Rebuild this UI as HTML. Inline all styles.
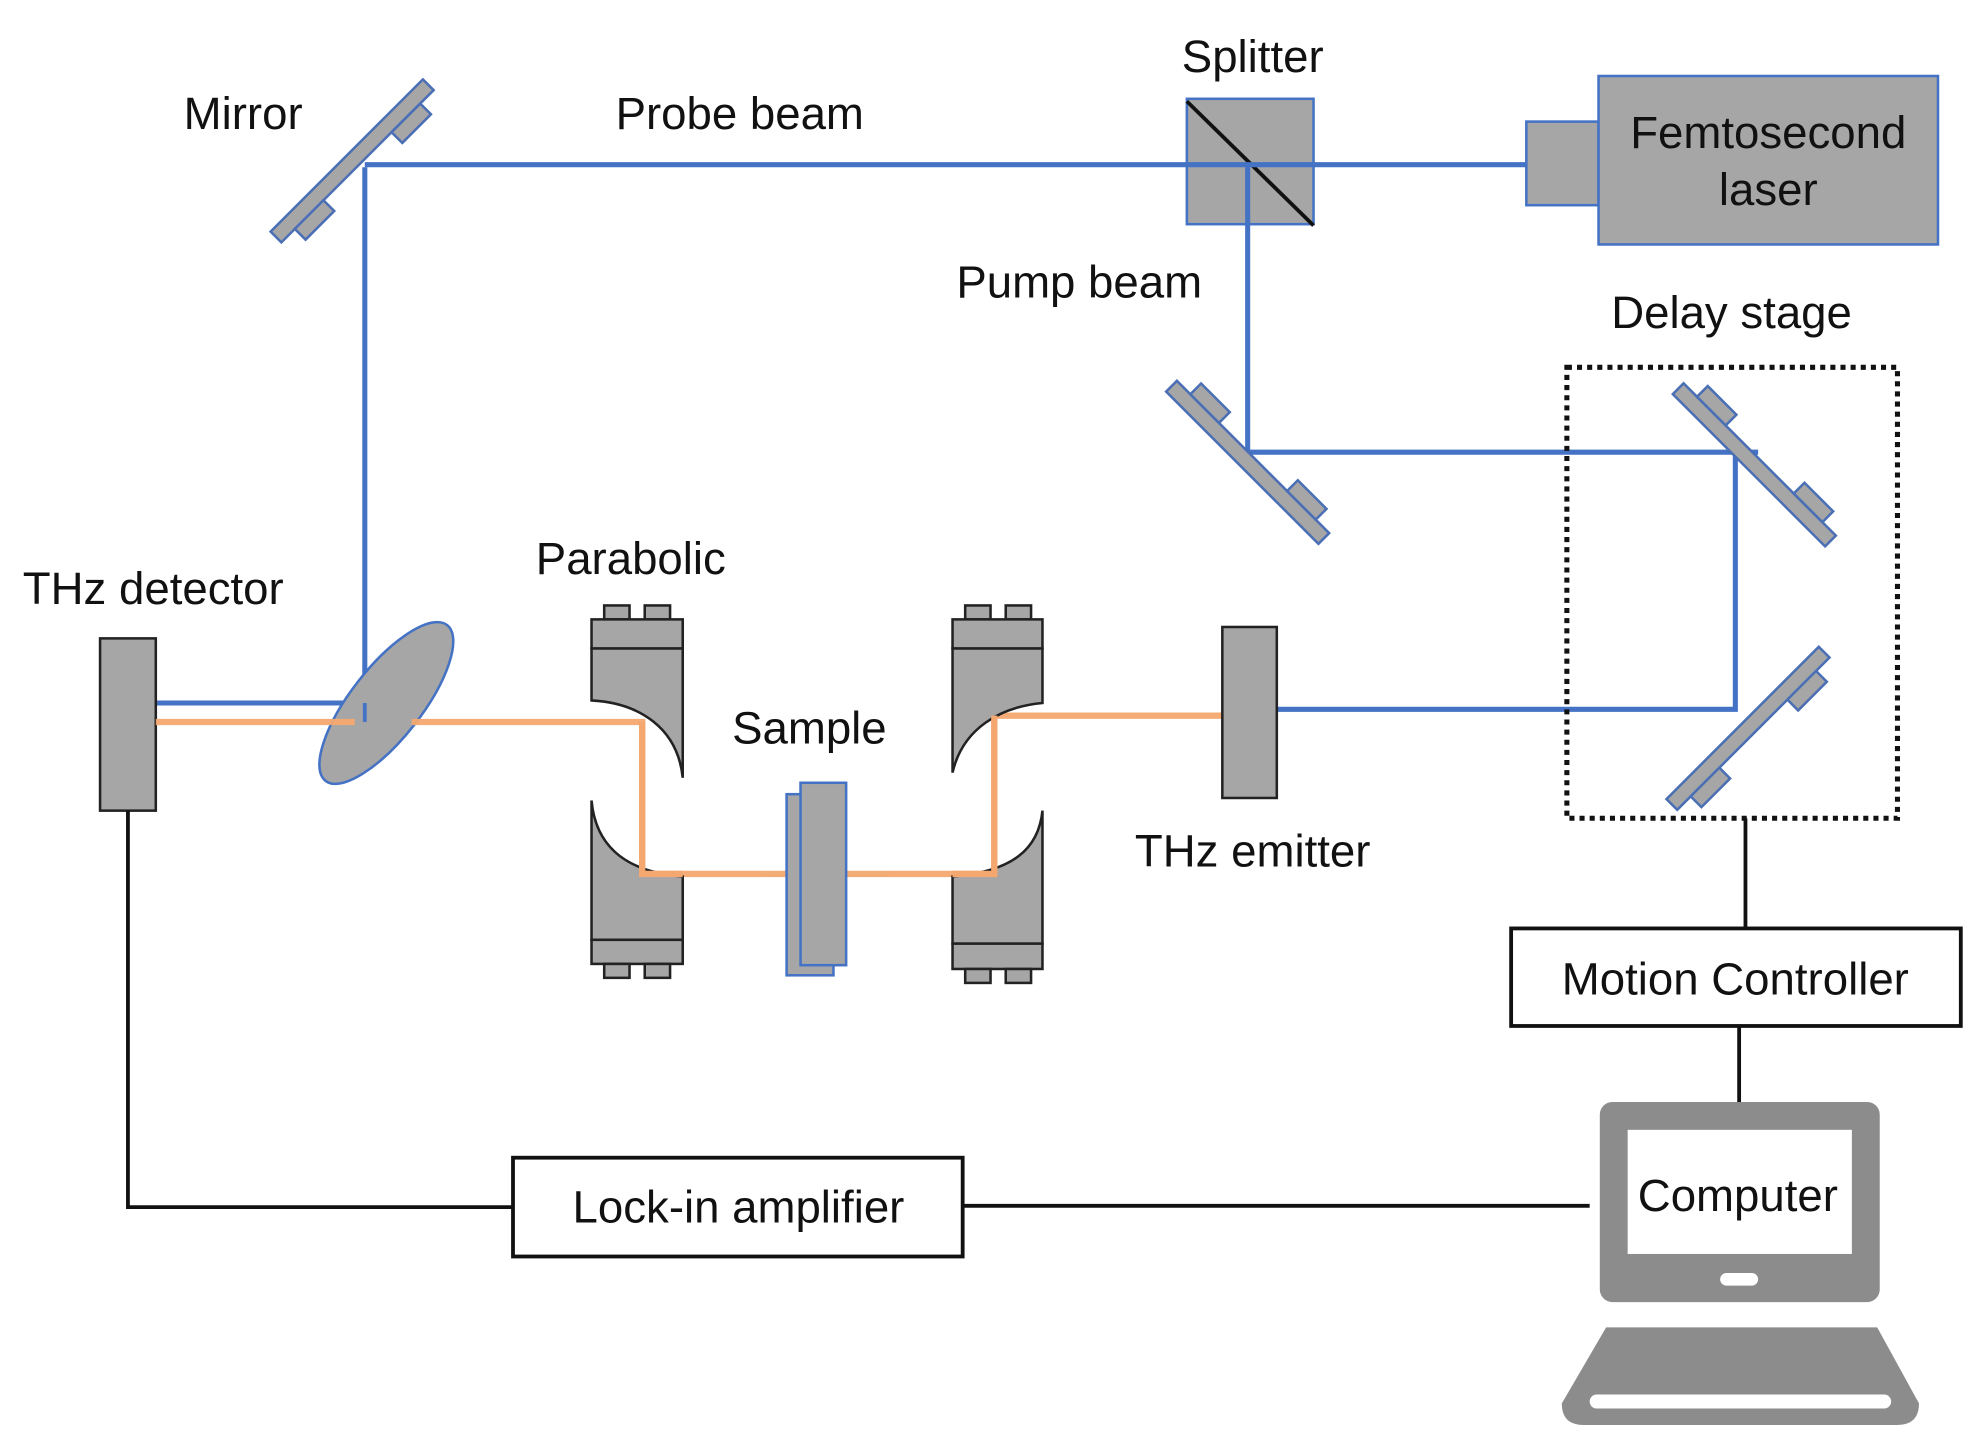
<!DOCTYPE html>
<html><head><meta charset="utf-8"><style>html,body{margin:0;padding:0;background:#fff;}svg{display:block}</style></head>
<body>
<svg width="1976" height="1447" viewBox="0 0 1560 1142.4" preserveAspectRatio="none" xmlns="http://www.w3.org/2000/svg" font-family="Liberation Sans, Arial, sans-serif" font-size="36" fill="#111">
<defs>
<g id="mir">
  <rect x="-85" y="-6" width="170" height="12" fill="#a6a6a6" stroke="#4a6fb5" stroke-width="2"/>
  <rect x="-70" y="6" width="32" height="12" fill="#a6a6a6" stroke="#4a6fb5" stroke-width="2"/>
  <rect x="38" y="6" width="32" height="12" fill="#a6a6a6" stroke="#4a6fb5" stroke-width="2"/>
</g>
</defs>
<!-- beams blue -->
<g stroke="#4472c4" stroke-width="4" fill="none">
  <path d="M288 130 H1205"/>
  <path d="M288 132 V555 H123"/>
  <path d="M985 130 V357 H1388"/>
  <path d="M1370 357 V560 H1008"/>
</g>
<!-- mirrors -->
<use href="#mir" transform="translate(278,127) rotate(-45)"/>
<use href="#mir" transform="translate(985,365) rotate(45) scale(1,-1)"/>
<use href="#mir" transform="translate(1385,367) rotate(45) scale(1,-1)"/>
<use href="#mir" transform="translate(1380,575) rotate(-45)"/>
<!-- splitter -->
<rect x="937" y="78" width="100" height="99" fill="#a6a6a6" stroke="#4472c4" stroke-width="2"/>
<line x1="937" y1="80" x2="1037" y2="178" stroke="#111" stroke-width="3"/>
<path d="M937 130 H1037" stroke="#4472c4" stroke-width="4"/>
<line x1="985" y1="130" x2="985" y2="177" stroke="#4472c4" stroke-width="4"/>
<!-- laser -->
<rect x="1205" y="96" width="57" height="66" fill="#a6a6a6" stroke="#4472c4" stroke-width="2"/>
<rect x="1262" y="60" width="268" height="133" fill="#a6a6a6" stroke="#4472c4" stroke-width="2"/>
<text x="1396" y="117" text-anchor="middle">Femtosecond</text>
<text x="1396" y="162" text-anchor="middle">laser</text>
<!-- delay box -->
<rect x="1237" y="290" width="261" height="356" fill="none" stroke="#111" stroke-width="4" stroke-dasharray="4,4"/>
<!-- detector & ellipse -->
<rect x="79" y="504" width="44" height="136" fill="#a6a6a6" stroke="#222" stroke-width="2"/>
<ellipse cx="305" cy="555" rx="28" ry="78" transform="rotate(38 305 555)" fill="#a6a6a6" stroke="#4472c4" stroke-width="2"/>
<!-- orange beams -->
<g stroke="#f4a870" stroke-width="5" fill="none" opacity="0.95">
  <path d="M123 570 H280"/>
  <path d="M325 570 H507 V690 H625"/>
  <path d="M662 690 H785 V565 H965"/>
</g>
<path d="M288 555 V570" stroke="#4472c4" stroke-width="3"/>
<!-- parabolic mirrors -->
<g fill="#a6a6a6" stroke="#222" stroke-width="2">
  <rect x="477" y="478" width="20" height="11"/><rect x="509" y="478" width="20" height="11"/>
  <rect x="467" y="489" width="72" height="23"/>
  <path d="M467 512 H539 V614 C535 575 505 555 467 553 Z"/>
  <path d="M467 632 C470 665 490 688 539 692 V742 H467 Z"/>
  <rect x="467" y="742" width="72" height="19"/>
  <rect x="477" y="761" width="20" height="11"/><rect x="509" y="761" width="20" height="11"/>
  <rect x="762" y="478" width="20" height="11"/><rect x="794" y="478" width="20" height="11"/>
  <rect x="752" y="489" width="71" height="23"/>
  <path d="M752 512 H823 V555 C790 558 760 575 752 610 Z"/>
  <path d="M823 640 C820 670 800 688 752 692 V745 H823 Z"/>
  <rect x="752" y="745" width="71" height="20"/>
  <rect x="762" y="765" width="20" height="11"/><rect x="794" y="765" width="20" height="11"/>
</g>
<path d="M507 570 V690 H539" stroke="#f4a870" stroke-width="5" fill="none"/>
<path d="M752 690 H785 V565" stroke="#f4a870" stroke-width="5" fill="none"/>
<!-- sample -->
<rect x="621" y="627" width="37" height="143" fill="#a6a6a6" stroke="#4472c4" stroke-width="2"/>
<rect x="632" y="618" width="36" height="144" fill="#a6a6a6" stroke="#4472c4" stroke-width="2"/>
<!-- emitter -->
<rect x="965" y="495" width="43" height="135" fill="#a6a6a6" stroke="#222" stroke-width="2"/>
<!-- labels -->
<text x="145" y="102">Mirror</text>
<text x="486" y="102">Probe beam</text>
<text x="933" y="57">Splitter</text>
<text x="755" y="235">Pump beam</text>
<text x="1272" y="259">Delay stage</text>
<text x="18" y="477">THz detector</text>
<text x="423" y="453">Parabolic</text>
<text x="578" y="587">Sample</text>
<text x="896" y="684">THz emitter</text>
<!-- controller / wires -->
<g stroke="#111" stroke-width="3" fill="none">
  <path d="M1378 646 V733"/>
  <path d="M1373 810 V870"/>
  <path d="M760 952 H1255"/>
  <path d="M101 640 V953 H405"/>
</g>
<rect x="1193" y="733" width="355" height="77" fill="#fff" stroke="#111" stroke-width="3"/>
<text x="1370" y="785" text-anchor="middle">Motion Controller</text>
<rect x="405" y="914" width="355" height="78" fill="#fff" stroke="#111" stroke-width="3"/>
<text x="583" y="965" text-anchor="middle">Lock-in amplifier</text>
<!-- computer -->
<rect x="1263" y="870" width="221" height="158" rx="10" fill="#8c8c8c"/>
<rect x="1285" y="892" width="177" height="98" fill="#fff"/>
<rect x="1358" y="1005" width="30" height="10" rx="5" fill="#fff"/>
<path d="M1268 1048 H1482 L1515 1108 Q1515 1125 1498 1125 H1250 Q1233 1125 1233 1108 Z" fill="#8c8c8c"/>
<rect x="1255" y="1101" width="238" height="11" rx="5.5" fill="#fff"/>
<text x="1372" y="956" text-anchor="middle">Computer</text>
</svg>
</body></html>
